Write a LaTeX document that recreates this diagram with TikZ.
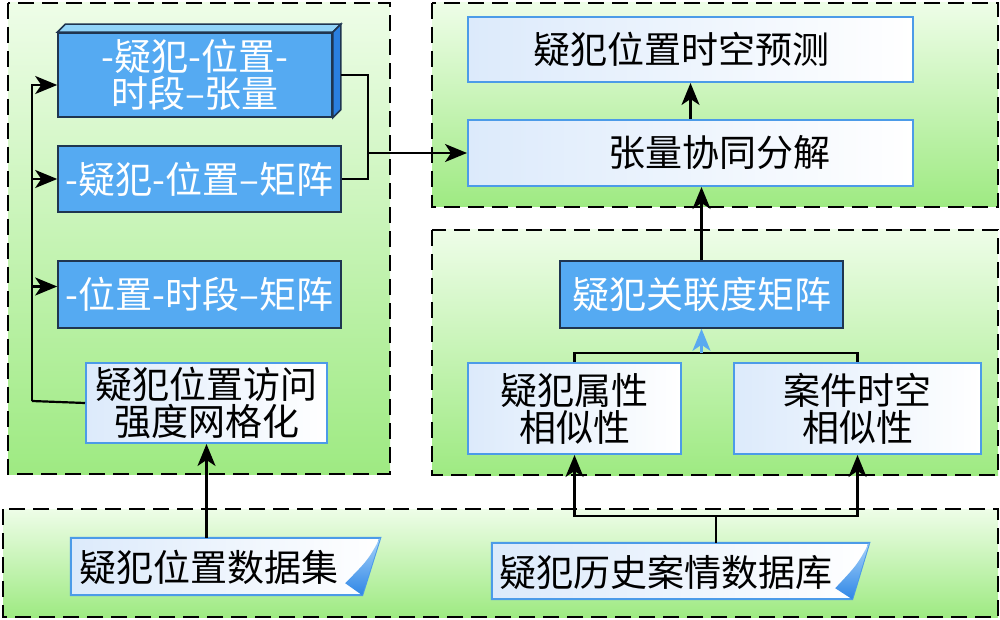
\documentclass[tikz,border=0pt]{standalone}
\usepackage{fontspec}
\newfontfamily\cjk{Noto Sans CJK SC}
\usetikzlibrary{arrows.meta,calc}
\definecolor{pgtop}{HTML}{EEFDE8}
\definecolor{pgbot}{HTML}{9EEA82}
\definecolor{bfill}{HTML}{55AAF2}
\definecolor{btop}{HTML}{92D4F8}
\definecolor{bside}{HTML}{2A7FE0}
\definecolor{bedge}{HTML}{1F3550}
\definecolor{wedge}{HTML}{4C9BE8}
\definecolor{wfill}{HTML}{DCEAFB}
\definecolor{curlA}{HTML}{A8D4FA}
\definecolor{curlB}{HTML}{2F86E6}
\definecolor{barrow}{HTML}{5AAAF0}
\begin{document}
\begin{tikzpicture}[x=1pt,y=-1pt,
  panel/.style={draw=black,line width=2.2pt,dash pattern=on 16pt off 8pt},
  txt/.style={font=\cjk\fontsize{37}{37}\selectfont,align=center,inner sep=0pt},
  bluebox/.style={draw=bedge,line width=1.6pt,fill=bfill,text=white,inner sep=0pt,
    font=\cjk\fontsize{37}{37}\selectfont,align=center},
  whitebox/.style={draw=wedge,line width=2pt,left color=wfill,right color=white,
    inner sep=0pt,font=\cjk\fontsize{37}{37}\selectfont,align=center},
  conn/.style={draw=black,line width=2.2pt},
  tipA/.tip={Stealth[length=22pt,width=18pt,inset=6pt]},
  arr/.style={conn,-tipA},
]
\useasboundingbox (0,0) rectangle (1000,620);
% panels
\shade[top color=pgtop,bottom color=pgbot] (8,3) rectangle (390,474);
\draw[panel] (8,3) rectangle (390,474);
\shade[top color=pgtop,bottom color=pgbot] (432,3) rectangle (998,207);
\draw[panel] (432,3) rectangle (998,207);
\shade[top color=pgtop,bottom color=pgbot] (432,230) rectangle (998,475);
\draw[panel] (432,230) rectangle (998,475);
\shade[top color=pgtop,bottom color=pgbot] (3,509) rectangle (998,617);
\draw[panel] (3,509) rectangle (998,617);

% 3D tensor box
\node[bluebox,minimum width=274pt,minimum height=84pt] (t3) at (195,75) {-疑犯-位置-\\时段–张量};
\fill[btop,draw=bedge,line width=1.6pt] (t3.north west) -- ++(8,-8) -- ($(t3.north east)+(8,-8)$) -- (t3.north east) -- cycle;
\fill[bside,draw=bedge,line width=1.6pt] (t3.north east) -- ++(8,-8) -- ($(t3.south east)+(8,-8)$) -- (t3.south east) -- cycle;

\node[bluebox,minimum width=283pt,minimum height=66pt] (m1) at (199.5,179) {-疑犯-位置–矩阵};
\node[bluebox,minimum width=283pt,minimum height=67pt] (m2) at (199.5,294.5) {-位置-时段–矩阵};
\node[whitebox,minimum width=241pt,minimum height=80pt] (grid) at (206.5,403) {疑犯位置访问\\强度网格化};

% dataset 1
\node[minimum width=309pt,minimum height=57pt,inner sep=0pt] (ds1) at (225.5,566.5) {};
\shade[left color=wfill,right color=white] (ds1.north west) -- (ds1.north east) -- ([xshift=-18pt]ds1.south east) -- (ds1.south west) -- cycle;
\draw[draw=wedge,line width=2pt] (ds1.north west) -- (ds1.north east) -- ([xshift=-18pt]ds1.south east) -- (ds1.south west) -- cycle;
\shade[top color=curlA,bottom color=curlB] (ds1.north east) .. controls ($(ds1.north east)+(-12,22)$) .. ($(ds1.south east)+(-35,-12)$) -- ([xshift=-18pt]ds1.south east) -- cycle;
\node[txt] (ds1t) at (209,567) {疑犯位置数据集};

% right top
\node[whitebox,minimum width=445pt,minimum height=65pt] (pred) at (690.5,49.5) {\hspace*{-18pt}疑犯位置时空预测};
\node[whitebox,minimum width=445pt,minimum height=66pt] (dec) at (690.5,153) {\hspace*{58pt}张量协同分解};

% right middle
\node[bluebox,minimum width=283pt,minimum height=67pt] (rel) at (701.5,294.5) {疑犯关联度矩阵};
\node[whitebox,minimum width=213pt,minimum height=91pt] (attr) at (574.5,408.5) {疑犯属性\\相似性};
\node[whitebox,minimum width=247pt,minimum height=91pt] (case) at (857.5,408.5) {案件时空\\相似性};

% dataset 2
\node[minimum width=377pt,minimum height=56pt,inner sep=0pt] (ds2) at (680.5,571) {};
\shade[left color=wfill,right color=white] (ds2.north west) -- (ds2.north east) -- ([xshift=-17pt]ds2.south east) -- (ds2.south west) -- cycle;
\draw[draw=wedge,line width=2pt] (ds2.north west) -- (ds2.north east) -- ([xshift=-17pt]ds2.south east) -- (ds2.south west) -- cycle;
\shade[top color=curlA,bottom color=curlB] (ds2.north east) .. controls ($(ds2.north east)+(-12,22)$) .. ($(ds2.south east)+(-34,-11)$) -- ([xshift=-17pt]ds2.south east) -- cycle;
\node[txt] (ds2t) at (666,572) {疑犯历史案情数据库};

% connectors left
\coordinate (bus) at (32,401);
\draw[conn] (grid.west) -- (bus);
\draw[arr] (bus) |- ([yshift=-10pt]t3.west);
\draw[arr] (bus |- m1.west) -- (m1.west);
\draw[arr] (bus |- m2.west) ++(0,-8) -- ([yshift=8pt]m2.west);
\coordinate (jx) at (368,153);
\draw[conn] ([xshift=8pt]t3.east) -| (jx) |- (m1.east);
\draw[arr] (jx) -- (dec.west);
\draw[arr] (grid.south |- ds1.north) -- (grid.south);

% connectors right
\draw[arr] (dec.north) -- (pred.south);
\draw[arr] (rel.north) -- (rel.north |- dec.south);
\coordinate (b3) at (701.5,353);
\draw[conn] (attr.north) |- (b3) -| (case.north);
\draw[conn,draw=barrow,-tipA] (b3) -- (rel.south);
\coordinate (b2) at (716,516);
\draw[conn] (b2 |- ds2.north) -- (b2);
\draw[arr] (b2) -| (attr.south);
\draw[arr] (b2) -| (case.south);
\end{tikzpicture}
\end{document}
